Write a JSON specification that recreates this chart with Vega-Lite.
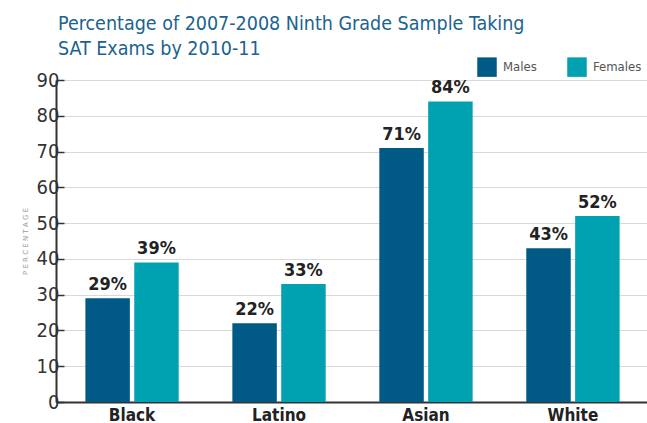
{
  "$schema": "https://vega.github.io/schema/vega-lite/v6.json",
  "width": 647,
  "height": 423,
  "autosize": {"type": "fit", "contains": "padding"},
  "padding": {"left": 21, "top": 13, "right": -2, "bottom": 0},
  "background": "white",
  "title": {
    "text": ["Percentage of 2007-2008 Ninth Grade Sample Taking", "SAT Exams by 2010-11"],
    "anchor": "start",
    "frame": "group",
    "font": "DejaVu Sans Condensed",
    "fontSize": 19.5,
    "fontWeight": "normal",
    "color": "#1b6390",
    "lineHeight": 25,
    "offset": 11,
    "dx": 2
  },
  "data": {
    "values": [
      {"group": "Black", "sex": "Males", "value": 29, "label": "29%"},
      {"group": "Black", "sex": "Females", "value": 39, "label": "39%"},
      {"group": "Latino", "sex": "Males", "value": 22, "label": "22%"},
      {"group": "Latino", "sex": "Females", "value": 33, "label": "33%"},
      {"group": "Asian", "sex": "Males", "value": 71, "label": "71%"},
      {"group": "Asian", "sex": "Females", "value": 84, "label": "84%"},
      {"group": "White", "sex": "Males", "value": 43, "label": "43%"},
      {"group": "White", "sex": "Females", "value": 52, "label": "52%"}
    ]
  },
  "encoding": {
    "x": {
      "field": "group",
      "type": "nominal",
      "sort": ["Black", "Latino", "Asian", "White"],
      "scale": {"paddingInner": 0.365, "paddingOuter": 0.2},
      "axis": {
        "title": null,
        "labelAngle": 0,
        "labelFont": "DejaVu Sans Condensed",
        "labelFontSize": 17,
        "labelFontWeight": "bold",
        "labelColor": "#222",
        "labelPadding": 5,
        "ticks": false,
        "domainColor": "#333",
        "domainWidth": 2
      }
    },
    "xOffset": {
      "field": "sex",
      "type": "nominal",
      "sort": ["Males", "Females"],
      "scale": {"paddingInner": 0.09}
    },
    "y": {
      "field": "value",
      "type": "quantitative",
      "scale": {"domain": [0, 90], "nice": false},
      "axis": {
        "values": [0, 10, 20, 30, 40, 50, 60, 70, 80, 90],
        "title": "P E R C E N T A G E",
        "titleFont": "DejaVu Sans",
        "titleFontSize": 7,
        "titleFontWeight": "normal",
        "titleColor": "#999",
        "titlePadding": 8,
        "labelFont": "DejaVu Sans Condensed",
        "labelFontSize": 20,
        "labelColor": "#333",
        "labelPadding": 5,
        "tickSize": -8,
        "tickColor": "#333",
        "tickWidth": 1.5,
        "gridColor": "#d9d9d9",
        "domainColor": "#333",
        "domainWidth": 2
      }
    }
  },
  "layer": [
    {
      "mark": {"type": "bar"},
      "encoding": {
        "color": {
          "field": "sex",
          "type": "nominal",
          "sort": ["Males", "Females"],
          "scale": {"domain": ["Males", "Females"], "range": ["#015985", "#00a1b0"]},
          "legend": {
            "title": null,
            "orient": "none",
            "direction": "horizontal",
            "legendX": 421,
            "legendY": -23,
            "symbolType": "square",
            "symbolSize": 380,
            "symbolStrokeWidth": 0,
            "labelFont": "DejaVu Sans Condensed",
            "labelFontSize": 13,
            "labelColor": "#555",
            "columnPadding": 30,
            "labelOffset": 6
          }
        }
      }
    },
    {
      "mark": {
        "type": "text",
        "dy": -13,
        "font": "DejaVu Sans Condensed",
        "fontSize": 18,
        "fontWeight": "bold",
        "color": "#222"
      },
      "encoding": {
        "text": {"field": "label", "type": "nominal"},
        "detail": {"field": "sex"}
      }
    }
  ]
}
